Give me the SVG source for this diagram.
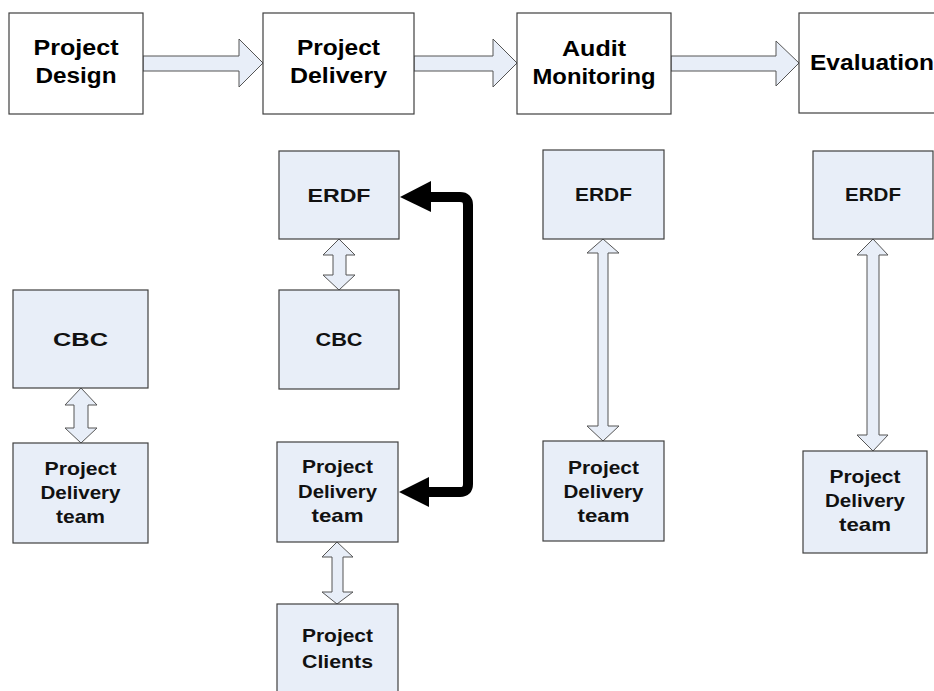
<svg xmlns="http://www.w3.org/2000/svg" width="934" height="691" viewBox="0 0 934 691">
<style>
  .top { fill: #ffffff; stroke: #404040; stroke-width: 1.2; }
  .sub { fill: #e8eef8; stroke: #404040; stroke-width: 1.2; }
  .blk { fill: #e8eef8; stroke: #555555; stroke-width: 1; stroke-linejoin: miter; }
  .t1 { font-family: "Liberation Sans", Arial, sans-serif; font-weight: bold; font-size: 22px; fill: #000; text-anchor: middle; }
  .t2 { font-family: "Liberation Sans", Arial, sans-serif; font-weight: bold; font-size: 19px; fill: #111; text-anchor: middle; }
</style>
<rect width="934" height="691" fill="#ffffff"/>

<g id="connectors">
  <!-- top flow arrows -->
  <polygon class="blk" points="143,56 239,56 239,39 263,63 239,87 239,71 143,71"/>
  <polygon class="blk" points="414,56 493,56 493,39 517,63 493,87 493,71 414,71"/>
  <polygon class="blk" points="671,56 776,56 776,41 799,63 776,86 776,71 671,71"/>
  <!-- vertical double arrows -->
  <polygon class="blk" points="81,388 97,405 88,405 88,428 97,428 81,443 65,428 74,428 74,405 65,405"/>
  <polygon class="blk" points="339,239 355,255 346,255 346,275 355,275 339,290 323,275 333,275 333,255 323,255"/>
  <polygon class="blk" points="337,542 353,557 343,557 343,592 353,592 337,604 322,592 332,592 332,557 322,557"/>
  <polygon class="blk" points="603,239 619,253 608,253 608,426 619,426 603,441 587,426 598,426 598,253 587,253"/>
  <polygon class="blk" points="873,239 888,255 879,255 879,435 888,435 873,451 857,435 867,435 867,255 857,255"/>
  <!-- black feedback arrow -->
  <path d="M428,197 L460,197 Q468,197 468,205 L468,484 Q468,492 460,492 L426,492" fill="none" stroke="#000" stroke-width="10"/>
  <polygon points="400,197 431,181 431,212" fill="#000"/>
  <polygon points="399,492 429,477 429,507" fill="#000"/>
</g>

<g id="project-design">
  <rect class="top" x="9" y="13" width="134" height="101"/>
  <text class="t1" x="76" y="55" textLength="85" lengthAdjust="spacingAndGlyphs">Project</text>
  <text class="t1" x="76" y="83" textLength="81" lengthAdjust="spacingAndGlyphs">Design</text>
</g>
<g id="project-delivery">
  <rect class="top" x="263" y="13" width="151" height="101"/>
  <text class="t1" x="338.5" y="55" textLength="83" lengthAdjust="spacingAndGlyphs">Project</text>
  <text class="t1" x="338.5" y="83" textLength="97" lengthAdjust="spacingAndGlyphs">Delivery</text>
</g>
<g id="audit-monitoring">
  <rect class="top" x="517" y="13" width="154" height="101"/>
  <text class="t1" x="594" y="56" textLength="64" lengthAdjust="spacingAndGlyphs">Audit</text>
  <text class="t1" x="594" y="84" textLength="123" lengthAdjust="spacingAndGlyphs">Monitoring</text>
</g>
<g id="evaluation">
  <rect class="top" x="799" y="13" width="150" height="100"/>
  <text class="t1" x="872" y="70" textLength="124" lengthAdjust="spacingAndGlyphs">Evaluation</text>
</g>

<g id="cbc-left">
  <rect class="sub" x="13" y="290" width="135" height="98"/>
  <text class="t2" x="80.5" y="346" font-size="20" textLength="55" lengthAdjust="spacingAndGlyphs">CBC</text>
</g>
<g id="pdt-left">
  <rect class="sub" x="13" y="443" width="135" height="100"/>
  <text class="t2" x="80.5" y="475" textLength="72" lengthAdjust="spacingAndGlyphs">Project</text>
  <text class="t2" x="80.5" y="499" textLength="80" lengthAdjust="spacingAndGlyphs">Delivery</text>
  <text class="t2" x="80.5" y="523" textLength="49" lengthAdjust="spacingAndGlyphs">team</text>
</g>

<g id="erdf-delivery">
  <rect class="sub" x="279" y="151" width="120" height="88"/>
  <text class="t2" x="339" y="202" textLength="63" lengthAdjust="spacingAndGlyphs">ERDF</text>
</g>
<g id="cbc-delivery">
  <rect class="sub" x="279" y="290" width="120" height="99"/>
  <text class="t2" x="339" y="346" font-size="20" textLength="47" lengthAdjust="spacingAndGlyphs">CBC</text>
</g>
<g id="pdt-delivery">
  <rect class="sub" x="277" y="442" width="121" height="100"/>
  <text class="t2" x="337.5" y="473" textLength="71" lengthAdjust="spacingAndGlyphs">Project</text>
  <text class="t2" x="337.5" y="498" textLength="79" lengthAdjust="spacingAndGlyphs">Delivery</text>
  <text class="t2" x="337.5" y="522" textLength="52" lengthAdjust="spacingAndGlyphs">team</text>
</g>
<g id="project-clients">
  <rect class="sub" x="277" y="604" width="121" height="95"/>
  <text class="t2" x="337.5" y="642" textLength="71" lengthAdjust="spacingAndGlyphs">Project</text>
  <text class="t2" x="337.5" y="668" textLength="71" lengthAdjust="spacingAndGlyphs">Clients</text>
</g>

<g id="erdf-audit">
  <rect class="sub" x="543" y="150" width="121" height="89"/>
  <text class="t2" x="603.5" y="201" textLength="57" lengthAdjust="spacingAndGlyphs">ERDF</text>
</g>
<g id="pdt-audit">
  <rect class="sub" x="543" y="441" width="121" height="100"/>
  <text class="t2" x="603.5" y="474" textLength="71" lengthAdjust="spacingAndGlyphs">Project</text>
  <text class="t2" x="603.5" y="498" textLength="80" lengthAdjust="spacingAndGlyphs">Delivery</text>
  <text class="t2" x="603.5" y="522" textLength="52" lengthAdjust="spacingAndGlyphs">team</text>
</g>

<g id="erdf-evaluation">
  <rect class="sub" x="813" y="151" width="120" height="88"/>
  <text class="t2" x="873" y="201" textLength="56" lengthAdjust="spacingAndGlyphs">ERDF</text>
</g>
<g id="pdt-evaluation">
  <rect class="sub" x="803" y="451" width="124" height="102"/>
  <text class="t2" x="865" y="483" textLength="71" lengthAdjust="spacingAndGlyphs">Project</text>
  <text class="t2" x="865" y="507" textLength="80" lengthAdjust="spacingAndGlyphs">Delivery</text>
  <text class="t2" x="865" y="531" textLength="52" lengthAdjust="spacingAndGlyphs">team</text>
</g>
</svg>
